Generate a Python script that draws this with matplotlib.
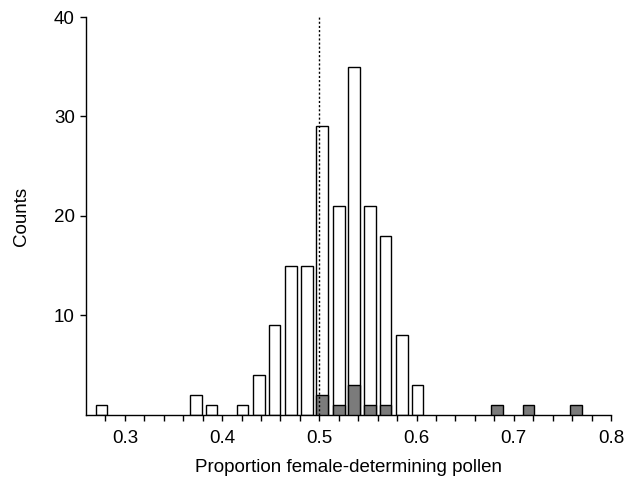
import matplotlib
matplotlib.use('Agg')
import matplotlib.pyplot as plt

plt.rcParams['font.family'] = ['Liberation Sans', 'DejaVu Sans']

# bin centres
all_centres = [0.276, 0.373, 0.389, 0.421, 0.438, 0.454, 0.471, 0.487,
               0.503, 0.520, 0.536, 0.552, 0.568, 0.585, 0.601]
all_counts = [1, 2, 1, 1, 4, 9, 15, 15, 29, 21, 35, 21, 18, 8, 3]

# grey subset
sub_centres = [0.503, 0.520, 0.536, 0.552, 0.568, 0.683, 0.715, 0.764]
sub_counts = [2, 1, 3, 1, 1, 1, 1, 1]

x_major = [0.3, 0.4, 0.5, 0.6, 0.7, 0.8]
x_minor = [0.28, 0.32, 0.34, 0.36, 0.38, 0.42, 0.44, 0.46, 0.48,
           0.52, 0.54, 0.56, 0.58, 0.62, 0.64, 0.66, 0.68,
           0.72, 0.74, 0.76, 0.78]
y_major = [10, 20, 30, 40]

bar_w = 0.012

fig = plt.figure(figsize=(6.34, 4.83), dpi=100)
ax = fig.add_axes([0.1356, 0.1408, 0.8281, 0.824])

ax.bar(all_centres, all_counts, width=bar_w, facecolor='white',
       edgecolor='black', linewidth=1.0, zorder=2)
ax.bar(sub_centres, sub_counts, width=bar_w, facecolor='#7b7b7b',
       edgecolor='black', linewidth=1.0, zorder=3)

# null expectation
ax.plot([0.5, 0.5], [0, 40], color='black', linestyle=(0, (1.5, 1.5)),
        linewidth=1.0, zorder=4)

ax.set_xlim(0.26, 0.8)
ax.set_ylim(0, 40)
ax.set_xticks(x_major)
ax.set_xticks(x_minor, minor=True)
ax.set_yticks(y_major)

for s in ['top', 'right']:
    ax.spines[s].set_visible(False)
for s in ['left', 'bottom']:
    ax.spines[s].set_linewidth(1.0)

ax.tick_params(axis='both', which='both', direction='out', length=4.5,
               width=1.0, labelsize=13.5)
ax.tick_params(axis='x', pad=6)

ax.set_xlabel('Proportion female-determining pollen', fontsize=13.5, labelpad=9)
ax.set_ylabel('Counts', fontsize=13.5, labelpad=17)

fig.savefig('out.png', dpi=100)
